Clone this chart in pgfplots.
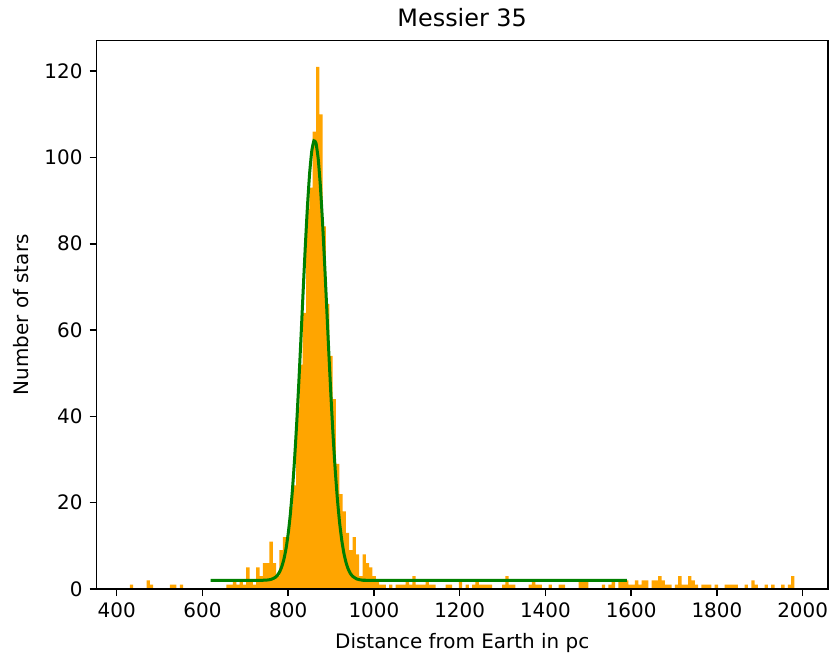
\documentclass[border=0pt]{standalone}
\usepackage{fontspec}
\setmainfont{DejaVu Sans}
\usepackage{pgfplots}
\usepackage{pgfplotstable}
\pgfplotsset{compat=1.18}
\definecolor{mplorange}{HTML}{FFA500}
\definecolor{mplgreen}{HTML}{008000}
\pgfplotstableread{
x y
430.90 1
438.65 0
446.40 0
454.15 0
461.90 0
469.65 2
477.40 1
485.15 0
492.90 0
500.65 0
508.40 0
516.15 0
523.90 1
531.65 1
539.40 0
547.15 1
554.90 0
562.65 0
570.40 0
578.15 0
585.90 0
593.65 0
601.40 0
609.15 0
616.90 0
624.65 0
632.40 0
640.15 0
647.90 0
655.65 1
663.40 1
671.15 2
678.90 1
686.65 2
694.40 1
702.15 5
709.90 2
717.65 1
725.40 5
733.15 3
740.90 6
748.65 6
756.40 11
764.15 6
771.90 3
779.65 9
787.40 12
795.15 12
802.90 19
810.65 24
818.40 42
826.15 52
833.90 64
841.65 88
849.40 93
857.15 106
864.90 121
872.65 110
880.40 84
888.15 66
895.90 54
903.65 44
911.40 29
919.15 22
926.90 18
934.65 13
942.40 9
950.15 12
957.90 8
965.65 3
973.40 8
981.15 6
988.90 5
996.65 3
1004.40 2
1012.15 1
1019.90 1
1027.65 0
1035.40 1
1043.15 0
1050.90 1
1058.65 1
1066.40 1
1074.15 2
1081.90 1
1089.65 3
1097.40 1
1105.15 1
1112.90 1
1120.65 2
1128.40 1
1136.15 1
1143.90 0
1151.65 0
1159.40 0
1167.15 1
1174.90 1
1182.65 0
1190.40 0
1198.15 2
1205.90 0
1213.65 1
1221.40 0
1229.15 1
1236.90 2
1244.65 1
1252.40 1
1260.15 1
1267.90 1
1275.65 0
1283.40 0
1291.15 0
1298.90 1
1306.65 3
1314.40 1
1322.15 1
1329.90 0
1337.65 0
1345.40 0
1353.15 0
1360.90 1
1368.65 2
1376.40 1
1384.15 1
1391.90 0
1399.65 0
1407.40 1
1415.15 0
1422.90 0
1430.65 1
1438.40 1
1446.15 0
1453.90 0
1461.65 0
1469.40 0
1477.15 2
1484.90 2
1492.65 2
1500.40 0
1508.15 0
1515.90 0
1523.65 0
1531.40 1
1539.15 0
1546.90 1
1554.65 2
1562.40 0
1570.15 2
1577.90 2
1585.65 2
1593.40 1
1601.15 1
1608.90 2
1616.65 1
1624.40 2
1632.15 2
1639.90 0
1647.65 2
1655.40 2
1663.15 3
1670.90 2
1678.65 1
1686.40 1
1694.15 0
1701.90 1
1709.65 3
1717.40 1
1725.15 1
1732.90 3
1740.65 2
1748.40 1
1756.15 0
1763.90 1
1771.65 1
1779.40 1
1787.15 0
1794.90 1
1802.65 0
1810.40 0
1818.15 1
1825.90 1
1833.65 1
1841.40 1
1849.15 0
1856.90 0
1864.65 1
1872.40 0
1880.15 2
1887.90 1
1895.65 0
1903.40 0
1911.15 1
1918.90 0
1926.65 1
1934.40 0
1942.15 0
1949.90 1
1957.65 0
1965.40 1
1973.15 3
1980.90 3
}\histtable
\pgfplotstableread{
x y
619 2.00
740 2.02
760 2.22
770 2.70
775 3.19
780 3.97
785 5.15
790 6.88
795 9.36
800 12.76
805 17.29
810 23.07
815 30.19
820 38.64
825 48.21
830 58.54
835 69.19
840 79.49
845 88.75
850 96.29
855 101.47
860 103.86
865 103.26
870 99.72
875 93.52
880 85.22
885 75.45
890 64.93
895 54.34
900 44.26
905 35.12
910 27.19
915 20.60
920 15.33
925 11.28
930 8.26
935 6.11
940 4.62
945 3.62
950 2.97
960 2.32
970 2.09
985 2.01
1000 2.00
1590 2.00
}\fittable
\begin{document}
\begin{tikzpicture}
\begin{axis}[
  width=731bp, height=548.3bp, scale only axis,
  xmin=353.4, xmax=2058.4, ymin=0, ymax=127.05,
  xtick={400,600,...,2000}, ytick={0,20,...,120},
  xtick pos=left, ytick pos=left,
  tick align=outside, major tick length=7bp,
  tick style={black, line width=1.6bp},
  axis line style={black, line width=1.6bp},
  axis on top,
  /pgf/number format/assume math mode=true,
  /pgf/number format/1000 sep={},
  x tick label style={font=\fontsize{20}{24}\selectfont, inner sep=0pt, anchor=north, yshift=-7bp},
  y tick label style={font=\fontsize{20}{24}\selectfont, inner sep=0pt, anchor=east, xshift=-7bp},
  title={Messier 35},
  title style={font=\fontsize{24}{28}\selectfont, at={(axis description cs:0.5,1)}, anchor=base, yshift=8bp},
  xlabel={Distance from Earth in pc},
  ylabel={Number of stars},
  x label style={font=\fontsize{20}{24}\selectfont, at={(axis description cs:0.5,0)}, anchor=base, yshift=-59bp},
  y label style={font=\fontsize{20}{24}\selectfont, at={(axis description cs:0,0.5)}, rotate=0, anchor=base, yshift=68bp},
]
\addplot[const plot mark left, fill=mplorange, draw=none] table[x=x, y=y] {\histtable} \closedcycle;
\addplot[mplgreen, line width=3bp, no markers, smooth, tension=0.3] table[x=x, y=y] {\fittable};
\end{axis}
\pgfresetboundingbox
\path (current axis.south west) ++(-96.7bp,-66bp) coordinate (bbA);
\path (current axis.north east) ++(2.3bp,40.7bp) coordinate (bbB);
\path[use as bounding box] (bbA) rectangle (bbB);
\end{tikzpicture}
\end{document}
